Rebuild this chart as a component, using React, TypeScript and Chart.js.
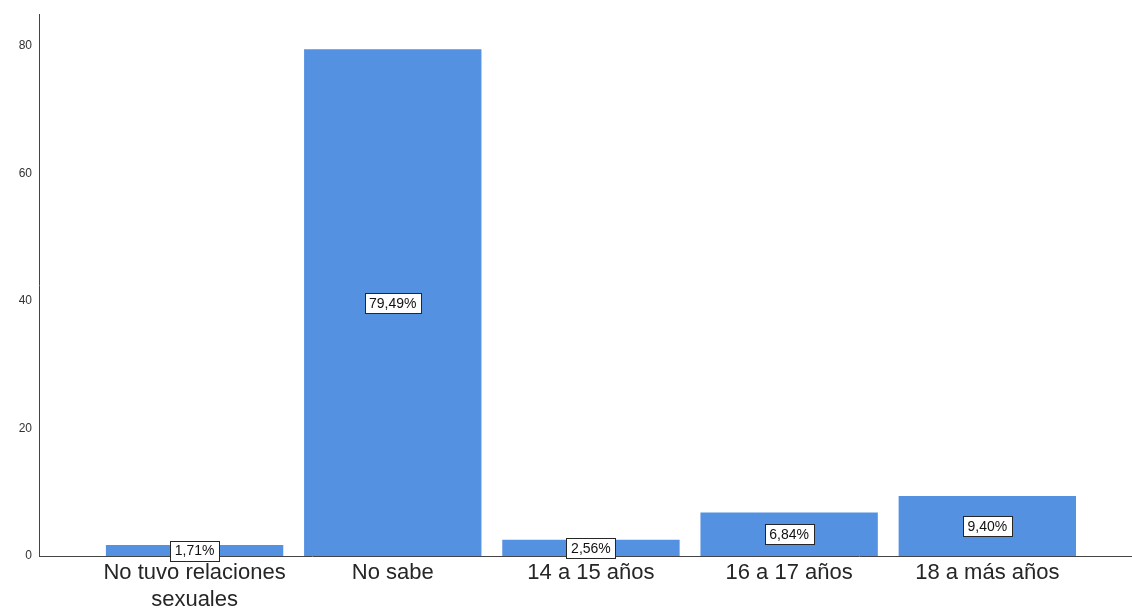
import React, { useEffect, useRef } from "react";
import { Chart, registerables } from "chart.js";

Chart.register(...registerables);

const CATEGORIES: (string | string[])[] = [
  ["No tuvo relaciones", "sexuales"],
  "No sabe",
  "14 a 15 años",
  "16 a 17 años",
  "18 a más años",
];
const PERCENTS: number[] = [1.71, 79.49, 2.56, 6.84, 9.4];
const PERCENT_LABELS: string[] = ["1,71%", "79,49%", "2,56%", "6,84%", "9,40%"];
const Y_TICKS: number[] = [0, 20, 40, 60, 80];

const FONT = "'Liberation Sans', Arial, sans-serif";

const boxLabels = {
  id: "boxLabels",
  afterDatasetsDraw(chart: any) {
    const ctx = chart.ctx as CanvasRenderingContext2D;
    const meta = chart.getDatasetMeta(0);
    ctx.save();
    ctx.font = `14px ${FONT}`;
    ctx.textAlign = "center";
    ctx.textBaseline = "middle";
    meta.data.forEach((el: any, i: number) => {
      const text = PERCENT_LABELS[i];
      const cx = el.x;
      const cy = (el.y + el.base) / 2;
      const w = Math.round(ctx.measureText(text).width + 9);
      const h = 20;
      const x0 = Math.round(cx - w / 2) + 0.5;
      const y0 = Math.round(cy - h / 2) + 0.5;
      ctx.fillStyle = "#ffffff";
      ctx.fillRect(x0, y0, w, h);
      ctx.strokeStyle = "#262626";
      ctx.lineWidth = 1;
      ctx.strokeRect(x0, y0, w, h);
      ctx.fillStyle = "#111111";
      ctx.fillText(text, cx, cy + 1);
    });
    ctx.restore();
  },
};

export default function App() {
  const ref = useRef<HTMLCanvasElement | null>(null);

  useEffect(() => {
    if (!ref.current) return;
    const chart = new Chart(ref.current, {
      type: "bar",
      data: {
        datasets: [
          {
            data: PERCENTS.map((v, i) => ({ x: i, y: v })),
            backgroundColor: "rgb(85,145,225)",
            borderWidth: 0,
            categoryPercentage: 0.895,
            barPercentage: 1,
          },
        ],
      },
      options: {
        responsive: false,
        animation: false,
        events: [],
        layout: { padding: { top: 13, left: 0, right: 0, bottom: 0 } },
        plugins: {
          legend: { display: false },
          tooltip: { enabled: false },
          title: { display: false },
        },
        scales: {
          x: {
            type: "linear",
            offset: false,
            min: -0.785,
            max: 4.73,
            grid: { display: false, drawTicks: false },
            border: { display: true, color: "#444444", width: 1 },
            afterBuildTicks: (s: any) => {
              s.ticks = CATEGORIES.map((_, i) => ({ value: i }));
            },
            afterFit: (s: any) => {
              s.height = 55;
            },
            ticks: {
              autoSkip: false,
              maxRotation: 0,
              minRotation: 0,
              padding: 3,
              color: "#262626",
              font: { family: FONT, size: 22, lineHeight: 1.25 },
              callback: (v: any) => CATEGORIES[Math.round(Number(v))] ?? "",
            },
          },
          y: {
            min: 0,
            max: 85,
            grid: { display: false, drawTicks: false },
            border: { display: true, color: "#444444", width: 1 },
            afterBuildTicks: (s: any) => {
              s.ticks = Y_TICKS.map((v) => ({ value: v }));
            },
            afterFit: (s: any) => {
              s.width = 39;
            },
            ticks: {
              padding: 7,
              color: "#333333",
              font: { family: FONT, size: 12 },
            },
          },
        },
      },
      plugins: [boxLabels],
    } as any);
    return () => chart.destroy();
  }, []);

  return (
    <div
      style={{
        position: "absolute",
        left: 0,
        top: 0,
        width: 1132,
        height: 611,
        background: "#ffffff",
      }}
    >
      <canvas ref={ref} width={1132} height={611} />
    </div>
  );
}
